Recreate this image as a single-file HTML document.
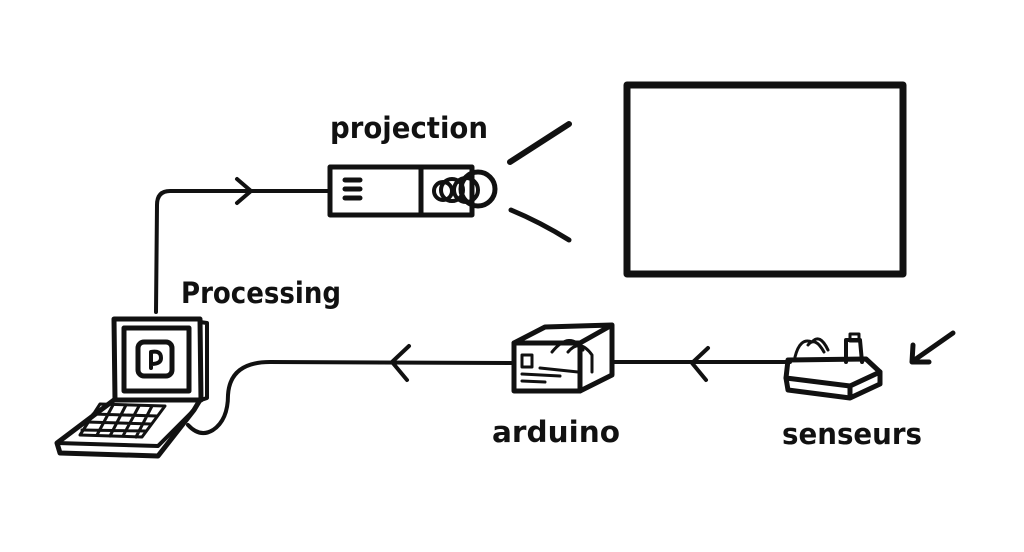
<!DOCTYPE html>
<html><head><meta charset="utf-8"><style>
html,body{margin:0;padding:0;background:#fff;}
svg{display:block}
text{font-family:"DejaVu Sans","Liberation Sans",sans-serif;font-weight:bold;fill:#111;}
</style></head><body>
<svg width="1024" height="552" viewBox="0 0 1024 552" xmlns="http://www.w3.org/2000/svg">
<g fill="none" stroke="#111" stroke-linecap="round" stroke-linejoin="round">
<!-- screen -->
<rect x="627" y="85" width="276" height="189" stroke-width="7"/>
<!-- beams -->
<line x1="510" y1="162" x2="569" y2="124" stroke-width="6"/>
<path d="M511 210 Q540 222 569 240" stroke-width="5"/>
<!-- projector -->
<rect x="330" y="167" width="142" height="48" stroke-width="5"/>
<line x1="421" y1="167" x2="421" y2="215" stroke-width="5"/>
<line x1="345" y1="180" x2="360" y2="180" stroke-width="5"/>
<line x1="345" y1="189" x2="360" y2="189" stroke-width="5"/>
<line x1="345" y1="198" x2="360" y2="198" stroke-width="5"/>
<circle cx="443" cy="191" r="9" stroke-width="4"/>
<circle cx="452" cy="190" r="11" stroke-width="4"/>
<circle cx="478" cy="189" r="17" stroke-width="5"/>
<circle cx="466" cy="190" r="12" stroke-width="4"/>
<!-- wire to projector -->
<path d="M329 191 L170 191 Q157 191 157 205 L156 312" stroke-width="4"/>
<path d="M237 179 L251 191 L237 203" stroke-width="4"/>
<!-- laptop -->
<path d="M114 319 L200 319 L201 400 L115 400 Z" stroke-width="5"/>
<path d="M200 322 L207 323 L207 398 L201 400" stroke-width="4"/>
<rect x="124" y="328" width="65" height="63" stroke-width="5"/>
<rect x="138" y="342" width="34" height="34" rx="6" stroke-width="5"/>
<path d="M151 368 L151 352 Q161 350 161 358 Q161 364 151 364" stroke-width="4"/>
<path d="M114 400 L57 443 L60 453 L158 456 L194 410 L200 400" stroke-width="5"/>
<path d="M57 443 L158 446 L194 410" stroke-width="4"/>
<path d="M100 404 L165 406 L142 437 L80 435 Z" stroke-width="3"/>
<path d="M93 414 L157 416 M87 422 L151 424 M82 430 L146 431 M113 405 L97 435 M126 405 L110 436 M139 406 L123 436 M152 406 L136 437" stroke-width="3"/>
<!-- cable to arduino -->
<path d="M188 425 Q200 438 213 430 Q228 420 228 395 Q230 362 270 362 L514 363" stroke-width="4"/>
<path d="M409 346 L392 362 L407 380" stroke-width="4"/>
<!-- arduino -->
<rect x="514" y="343" width="66" height="48" stroke-width="5"/>
<path d="M514 343 L545 327 L612 325 L580 343 M612 325 L612 375 L580 391" stroke-width="5"/>
<path d="M522 355 L532 355 L532 367 L522 367 Z M522 374 L560 376 M522 381 L545 382 M540 368 L578 372" stroke-width="3"/>
<path d="M552 352 Q570 330 583 350 M568 352 Q580 338 592 355 L592 372" stroke-width="3"/>
<!-- line to sensors -->
<path d="M612 362 L790 362" stroke-width="4"/>
<path d="M708 348 L692 363 L706 380" stroke-width="4"/>
<!-- sensor -->
<path d="M788 360 L866 359 L880 372 L850 386 L786 378 Z" stroke-width="5"/>
<path d="M786 378 L788 390 L850 398 L850 386 M850 398 L880 384 L880 372" stroke-width="5"/>
<path d="M795 357 Q800 337 812 342 Q820 333 828 350 M808 345 Q815 336 824 352" stroke-width="3"/>
<path d="M846 362 L846 340 L860 340 L862 362" stroke-width="4"/>
<rect x="850" y="334" width="9" height="7" stroke-width="3"/>
<!-- incoming arrow -->
<path d="M953 333 L913 361" stroke-width="5"/>
<path d="M913 345 L912 362 L929 362" stroke-width="5"/>
</g>
<text x="330" y="138" font-size="29" textLength="158" lengthAdjust="spacingAndGlyphs">projection</text>
<text x="181" y="303" font-size="29" textLength="160" lengthAdjust="spacingAndGlyphs">Processing</text>
<text x="492" y="442" font-size="29" textLength="128" lengthAdjust="spacingAndGlyphs">arduino</text>
<text x="782" y="444" font-size="29" textLength="140" lengthAdjust="spacingAndGlyphs">senseurs</text>
</svg>
</body></html>
